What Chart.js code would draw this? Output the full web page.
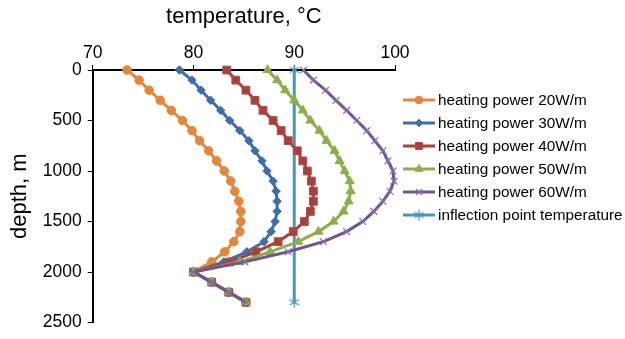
<!DOCTYPE html>
<html>
<head>
<meta charset="utf-8">
<script src="https://cdn.jsdelivr.net/npm/chart.js@4.4.0/dist/chart.umd.min.js"></script>
<style>
  html, body { margin: 0; padding: 0; background: #fff; }
  canvas { display: block; }
</style>
</head>
<body>
<canvas id="chart" width="625" height="339"></canvas>
<script>
// Depth below surface (m), one sample every 100 m
const depths = [0, 100, 200, 300, 400, 500, 600, 700, 800, 900, 1000, 1100,
                1200, 1300, 1400, 1500, 1600, 1700, 1800, 1900, 2000, 2100, 2200, 2300];

// Fluid temperature (°C) for each heating power
const temp20 = [73.4, 74.6, 75.6, 76.7, 77.8, 78.9, 79.85, 80.6, 81.5, 82.3, 83.05, 83.7,
                84.1, 84.5, 84.7, 84.7, 84.6, 84.0, 83.1, 81.8, 80.0, 81.8, 83.5, 85.2];
const temp30 = [78.6, 79.85, 80.75, 81.7, 82.7, 83.6, 84.6, 85.5, 86.1, 86.8, 87.3, 87.9,
                88.2, 88.3, 88.3, 88.1, 87.7, 87.0, 85.3, 83.0, 80.0, 81.8, 83.5, 85.2];
const temp40 = [83.3, 84.2, 85.2, 86.1, 86.9, 87.9, 88.7, 89.4, 90.3, 90.85, 91.3, 91.7,
                91.9, 91.9, 91.6, 91.0, 89.9, 88.4, 86.2, 83.6, 80.0, 81.8, 83.5, 85.2];
const temp50 = [87.35, 88.3, 89.1, 90.0, 90.85, 91.6, 92.5, 93.2, 94.0, 94.5, 95.0, 95.5,
                95.6, 95.4, 94.9, 93.9, 92.4, 90.4, 87.6, 84.6, 80.0, 81.8, 83.5, 85.2];
const temp60 = [90.9, 91.9, 93.1, 94.15, 95.2, 96.2, 97.2, 98.0, 98.8, 99.3, 99.8, 99.9,
                99.5, 98.8, 97.9, 96.8, 95.2, 92.9, 89.4, 85.1, 80.0, 81.8, 83.5, 85.2];

// Inflection point temperature, constant over depth
const inflectionDepths = [0, 2300];
const inflectionTemps = [90, 90];

const seriesNames = [
  'heating power 20W/m',
  'heating power 30W/m',
  'heating power 40W/m',
  'heating power 50W/m',
  'heating power 60W/m',
  'inflection point temperature'
];

const FONT = "'Liberation Sans', Arial, Helvetica, sans-serif";
Chart.defaults.font.family = FONT;
Chart.defaults.color = '#000';

// Asterisk-like marker: an X with a vertical bar
function makeStar(color, size) {
  const c = document.createElement('canvas');
  c.width = size; c.height = size;
  const g = c.getContext('2d');
  const m = size / 2, r = size / 2 - 1;
  g.strokeStyle = color;
  g.lineWidth = 1.3;
  g.beginPath();
  g.moveTo(m - r * 0.87, m - r * 0.5); g.lineTo(m + r * 0.87, m + r * 0.5);
  g.moveTo(m - r * 0.87, m + r * 0.5); g.lineTo(m + r * 0.87, m - r * 0.5);
  g.moveTo(m, m - r); g.lineTo(m, m + r);
  g.stroke();
  return c;
}

const CYAN = '#4599B4';
const starMarker = makeStar(CYAN, 13);

function points(temps, ds) {
  return temps.map((t, i) => ({ x: t, y: ds[i] }));
}

const styles = [
  { color: '#E4873B', point: 'circle',   radius: 4.3, pointBorder: '#E4873B', pointBorderWidth: 1, order: 6 },
  { color: '#3E6EAA', point: 'rectRot',  radius: 4.2, pointBorder: '#3E6EAA', pointBorderWidth: 1, order: 5 },
  { color: '#A8403E', point: 'rect',     radius: 5.5, pointBorder: '#B04A48', pointBorderWidth: 1, order: 4 },
  { color: '#8CAF4B', point: 'triangle', radius: 5.2, pointBorder: '#8CAF4B', pointBorderWidth: 1, order: 3 },
  { color: '#6E5591', point: 'crossRot', radius: 4.8, pointBorder: '#8570A8', pointBorderWidth: 1.2, order: 2 },
  { color: CYAN,      point: starMarker, radius: 6,   pointBorder: CYAN,      pointBorderWidth: 1, order: 7 }
];

const seriesData = [
  points(temp20, depths),
  points(temp30, depths),
  points(temp40, depths),
  points(temp50, depths),
  points(temp60, depths),
  points(inflectionTemps, inflectionDepths)
];

const datasets = seriesData.map((d, i) => ({
  label: seriesNames[i],
  data: d,
  borderColor: styles[i].color,
  backgroundColor: styles[i].color,
  borderWidth: 3,
  pointStyle: styles[i].point,
  pointRadius: styles[i].radius,
  pointBackgroundColor: styles[i].color,
  pointBorderColor: styles[i].pointBorder,
  pointBorderWidth: styles[i].pointBorderWidth,
  tension: 0,
  clip: false,
  order: styles[i].order
}));

// Legend at the right: short line with the series marker, then the name
const sideLegend = {
  id: 'sideLegend',
  afterDraw(chart) {
    const ctx = chart.ctx;
    const left = chart.chartArea.right + 8;
    const lineLen = 32;
    const firstY = 100;
    const step = 23;
    ctx.save();
    ctx.font = '15.3px ' + FONT;
    ctx.textBaseline = 'middle';
    ctx.textAlign = 'left';
    seriesNames.forEach((name, i) => {
      const st = styles[i];
      const y = firstY + i * step;
      ctx.strokeStyle = st.color;
      ctx.lineWidth = 3;
      ctx.beginPath();
      ctx.moveTo(left, y);
      ctx.lineTo(left + lineLen, y);
      ctx.stroke();
      const cx = left + lineLen / 2;
      if (typeof st.point === 'string') {
        ctx.fillStyle = st.color;
        ctx.strokeStyle = st.pointBorder;
        ctx.lineWidth = st.pointBorderWidth;
        Chart.helpers.drawPoint(ctx, {
          pointStyle: st.point, radius: st.radius * 0.9, rotation: 0, borderWidth: st.pointBorderWidth
        }, cx, y);
      } else {
        ctx.drawImage(st.point, cx - st.point.width / 2, y - st.point.height / 2);
      }
      ctx.fillStyle = '#000';
      ctx.fillText(name, left + lineLen + 3, y + 0.5);
    });
    ctx.restore();
  }
};

const axisGrid = {
  drawOnChartArea: false,
  drawTicks: true,
  tickLength: 5,
  color: '#000',
  lineWidth: 1
};

new Chart(document.getElementById('chart'), {
  type: 'line',
  data: { datasets },
  options: {
    responsive: false,
    animation: false,
    layout: { padding: { left: 0, top: 0, right: 230, bottom: 15 } },
    plugins: {
      legend: { display: false },
      tooltip: { enabled: false }
    },
    scales: {
      x: {
        type: 'linear',
        position: 'top',
        min: 70,
        max: 100,
        ticks: {
          stepSize: 10,
          padding: 1,
          color: '#000',
          font: { size: 17.5 },
          callback: v => String(v)
        },
        grid: axisGrid,
        border: { color: '#000', width: 2 },
        title: {
          display: true,
          text: 'temperature, °C',
          color: '#000',
          font: { size: 22 },
          padding: { top: 4.2, bottom: 11.4 }
        }
      },
      y: {
        type: 'linear',
        reverse: true,
        min: 0,
        max: 2500,
        ticks: {
          stepSize: 500,
          padding: 6,
          color: '#000',
          font: { size: 17.5 },
          callback: v => String(v)
        },
        grid: axisGrid,
        border: { color: '#000', width: 2 },
        title: {
          display: true,
          text: 'depth, m',
          color: '#000',
          font: { size: 22 },
          padding: { top: 6.5, bottom: 3.9 }
        }
      }
    }
  },
  plugins: [sideLegend]
});
</script>
</body>
</html>
